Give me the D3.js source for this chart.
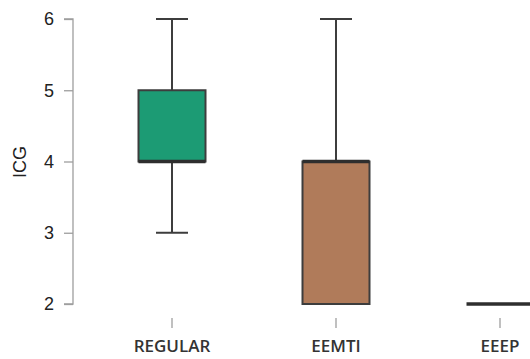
<!DOCTYPE html>
<html>
<head>
<meta charset="utf-8">
<script src="https://cdn.jsdelivr.net/npm/d3@7"></script>
<style>
  html, body { margin: 0; padding: 0; background: #fff; }
  svg { display: block; }
</style>
</head>
<body>
<svg id="chart" width="530" height="359"></svg>
<script>
// Five-number summaries of ICG per school type
const categories = ["REGULAR", "EEMTI", "EEEP"];
const mins      = [3, 2, 2];
const q1s       = [4, 2, 2];
const medians   = [4, 4, 2];
const q3s       = [5, 4, 2];
const maxs      = [6, 6, 2];
const colors    = ["#1c9b74", "#b07b5a", "#7570b3"];
const yTicks    = [2, 3, 4, 5, 6];

const svg = d3.select("#chart");

const y = d3.scaleLinear().domain([2, 6]).range([304, 19]);
const x = d3.scaleBand().domain(categories).range([90, 582]).paddingInner(0).paddingOuter(0);

const boxW = 67, capW = 32;
const stroke = "#3d3d3d";

// y axis
const yAxis = d3.axisLeft(y).tickValues(yTicks).tickSize(9).tickPadding(10).tickFormat(d3.format("d"));
const ya = svg.append("g").attr("transform", "translate(73,0)").call(yAxis);
ya.select(".domain").attr("stroke", "#9e9e9e").attr("stroke-width", 1.3)
  .attr("d", `M-9,${y(6)}H0V${y(2)}H-9`);
ya.selectAll(".tick line").attr("stroke", "#9e9e9e").attr("stroke-width", 1.3);
ya.selectAll(".tick text").attr("fill", "#222")
  .style("font-family", "'Liberation Sans', Arial, sans-serif").style("font-size", "18px");

svg.append("text")
  .attr("transform", `translate(26,162) rotate(-90)`)
  .attr("text-anchor", "middle")
  .attr("fill", "#222")
  .style("font-family", "'Liberation Sans', Arial, sans-serif")
  .style("font-size", "18px")
  .text("ICG");

// x axis: ticks and labels without a baseline
const xAxis = d3.axisBottom(x).tickSize(10).tickPadding(12);
const xa = svg.append("g").attr("transform", "translate(0,318)").call(xAxis);
xa.select(".domain").remove();
xa.selectAll(".tick line").attr("stroke", "#9e9e9e").attr("stroke-width", 1.3);
xa.selectAll(".tick text").attr("fill", "#333")
  .style("font-family", "'Open Sans', sans-serif").style("font-weight", "600").style("font-size", "17px");

const data = categories.map((c, i) => ({
  c, min: mins[i], q1: q1s[i], med: medians[i], q3: q3s[i], max: maxs[i], color: colors[i]
}));

const g = svg.selectAll("g.box").data(data).join("g").attr("class", "box")
  .attr("transform", d => `translate(${x(d.c) + x.bandwidth() / 2},0)`);

// whiskers
g.filter(d => d.max > d.q3).append("line")
  .attr("x1", 0).attr("x2", 0).attr("y1", d => y(d.q3)).attr("y2", d => y(d.max))
  .attr("stroke", stroke).attr("stroke-width", 2);
g.filter(d => d.max > d.q3).append("line")
  .attr("x1", -capW / 2).attr("x2", capW / 2).attr("y1", d => y(d.max)).attr("y2", d => y(d.max))
  .attr("stroke", stroke).attr("stroke-width", 2);
g.filter(d => d.min < d.q1).append("line")
  .attr("x1", 0).attr("x2", 0).attr("y1", d => y(d.q1)).attr("y2", d => y(d.min))
  .attr("stroke", stroke).attr("stroke-width", 2);
g.filter(d => d.min < d.q1).append("line")
  .attr("x1", -capW / 2).attr("x2", capW / 2).attr("y1", d => y(d.min)).attr("y2", d => y(d.min))
  .attr("stroke", stroke).attr("stroke-width", 2);

// boxes
g.filter(d => d.q3 > d.q1).append("rect")
  .attr("x", -boxW / 2).attr("width", boxW)
  .attr("y", d => y(d.q3)).attr("height", d => y(d.q1) - y(d.q3))
  .attr("fill", d => d.color).attr("stroke", stroke).attr("stroke-width", 2);

// medians
g.append("line")
  .attr("x1", -boxW / 2).attr("x2", boxW / 2)
  .attr("y1", d => y(d.med)).attr("y2", d => y(d.med))
  .attr("stroke", "#2e2e2e").attr("stroke-width", 3.5);
</script>
</body>
</html>
